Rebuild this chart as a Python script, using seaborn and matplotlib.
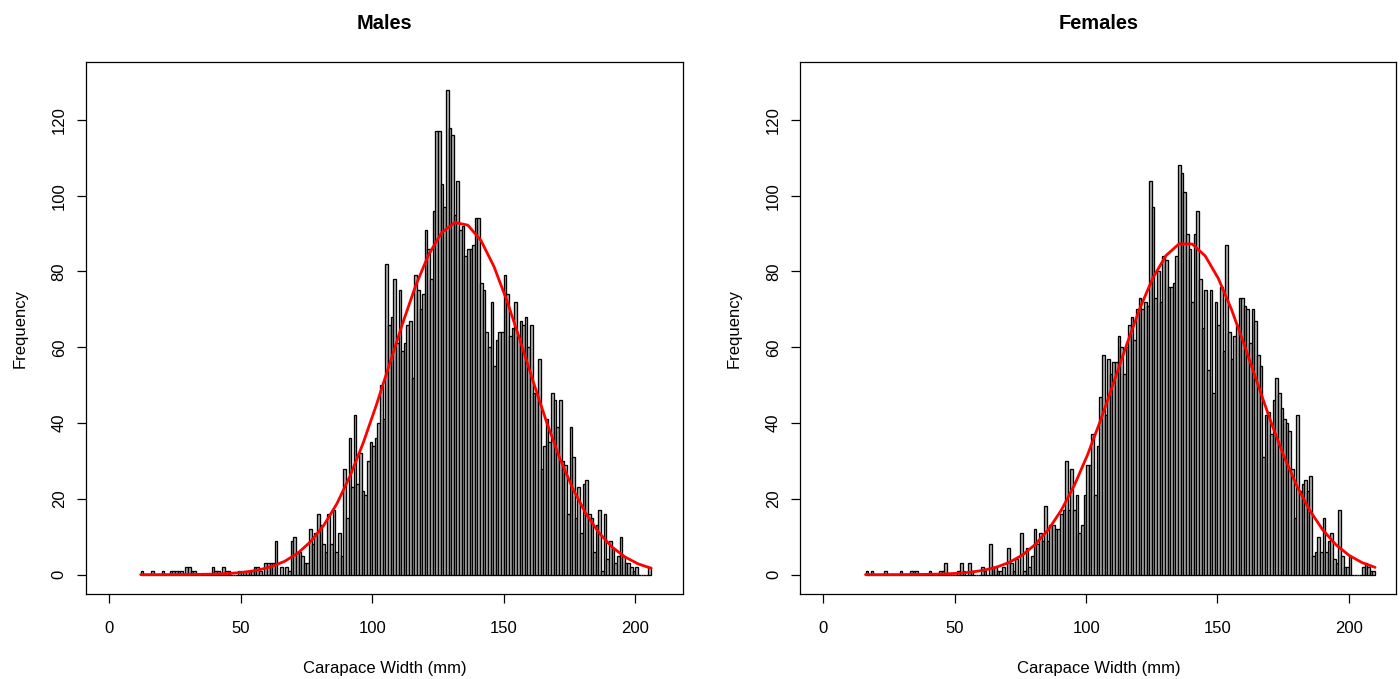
import numpy as np
import pandas as pd
import matplotlib
matplotlib.use("Agg")
import matplotlib.pyplot as plt
import seaborn as sns

# Carapace width frequencies in 1 mm classes; each list starts at its first class.
males_first_bin = 12
males_counts = [
    1, 0, 0, 0, 1, 0, 0, 0, 1, 0, 0, 1, 1, 1, 1, 1, 0, 2, 2, 1,          # 12-31
    1, 0, 0, 0, 0, 0, 0, 2, 1, 1, 0, 2, 1, 1, 0, 0, 0, 1, 0, 1,          # 32-51
    1, 1, 1, 2, 2, 1, 0, 3, 3, 3, 3, 9, 0, 2, 0, 2, 1, 9, 10, 6,         # 52-71
    6, 5, 3, 3, 12, 8, 11, 16, 13, 8, 6, 16, 8,                          # 72-84
    17, 6, 11, 5, 28, 15, 36, 23, 42, 24, 32, 22, 21, 30, 35, 34, 36, 40, 50, 41,      # 85-104
    82, 66, 68, 78, 61, 75, 59, 61, 66, 67, 52, 79, 75, 70, 74, 91, 86, 78, 96, 117,   # 105-124
    117, 103, 97, 128, 118, 116, 95, 104, 91, 92, 84, 86, 86, 87, 94, 94, 77, 75, 64, 60,  # 125-144
    72, 55, 62, 64, 64, 79, 74, 63, 65, 72, 63, 67, 66, 68, 60, 66, 48, 48, 57,       # 145-163
    28, 34, 41, 35, 48, 46, 39, 46, 30, 29, 16, 39, 31, 15, 23, 11, 24, 25, 16, 15,   # 164-183
    6, 13, 17, 1, 16, 4, 9, 7, 3, 5, 10, 5, 3, 3, 2, 1, 2, 0, 0, 0, 0, 2,             # 184-205
]

females_first_bin = 16
females_counts = [
    1, 0, 1, 0, 0, 0, 0, 1, 0, 0, 0, 0, 0, 1, 0, 0, 0, 1, 1, 1,          # 16-35
    0, 0, 0, 0, 1, 0, 0, 0, 1, 1, 3, 0, 0, 0, 0, 1, 3, 1, 0, 3,          # 36-55
    1, 0, 0, 0, 2, 1, 0, 8, 2, 2, 1, 1, 2, 0, 7, 3, 1, 4, 0, 11,         # 56-75
    1, 7, 2, 5, 12, 8, 11, 9, 18,                                        # 76-84
    9, 13, 13, 12, 12, 16, 17, 30, 17, 28, 17, 21, 11, 13, 21, 29, 29, 37, 21, 34,    # 85-104
    47, 58, 42, 57, 53, 56, 56, 63, 60, 53, 60, 66, 68, 62, 70, 73, 70, 72, 71, 104,  # 105-124
    97, 73, 80, 72, 84, 83, 76, 76, 77, 84, 108, 106, 101, 90, 86, 72, 90, 96, 78, 65,  # 125-144
    75, 54, 75, 48, 72, 66, 76, 59, 87, 64, 57, 63, 66, 73, 73, 71, 70, 61, 70, 67,   # 145-164
    58, 55, 31, 42, 43, 37, 46, 52, 48, 44, 41, 40, 38, 28, 15, 42, 22, 24, 25, 22,   # 165-184
    26, 5, 6, 10, 6, 15, 6, 9, 11, 4, 3, 17, 5, 2, 2, 5, 0, 0, 0, 0,                 # 185-204
    2, 3, 2, 1, 1,                                                       # 205-209
]

panel_titles = ["Males", "Females"]
x_label = "Carapace Width (mm)"
y_label = "Frequency"
x_ticks = [0, 50, 100, 150, 200]
y_ticks = [0, 20, 40, 60, 80, 100, 120]

sns.set_theme(style="white")
plt.rcParams["font.family"] = ["Liberation Sans", "DejaVu Sans"]
plt.rcParams["text.color"] = "black"
plt.rcParams["axes.labelcolor"] = "black"

fig = plt.figure(figsize=(14, 6.79), dpi=100)
axes = [
    fig.add_axes([0.0614, 0.1247, 0.4264, 0.7835]),
    fig.add_axes([0.5717, 0.1247, 0.4257, 0.7835]),
]


def normal_fit(first, counts, npts=40):
    """Normal density scaled to the histogram (1 mm classes)."""
    counts = np.asarray(counts, dtype=float)
    left = first + np.arange(len(counts))
    mids = left + 0.5
    n = counts.sum()
    mean = (mids * counts).sum() / n
    sd = np.sqrt((counts * (mids - mean) ** 2).sum() / (n - 1))
    xs = np.linspace(left[0], left[-1] + 1, npts)
    ys = n * np.exp(-0.5 * ((xs - mean) / sd) ** 2) / (sd * np.sqrt(2 * np.pi))
    return xs, ys


for ax, title, first, counts in zip(
    axes, panel_titles,
    [males_first_bin, females_first_bin],
    [males_counts, females_counts],
):
    counts = np.asarray(counts)
    left = first + np.arange(len(counts))
    df = pd.DataFrame({"width": left + 0.5, "n": counts})

    sns.histplot(
        data=df, x="width", weights="n", binwidth=1,
        binrange=(float(left[0]), float(left[-1] + 1)), stat="count",
        color="#b4b4b4", edgecolor="black", linewidth=0.95, alpha=1.0, ax=ax,
    )
    xs, ys = normal_fit(first, counts)
    sns.lineplot(x=xs, y=ys, color="red", linewidth=2.0, sort=False, ax=ax)

    ax.set_xlim(-8.8, 218.1)
    ax.set_ylim(-5.2, 135.2)
    ax.set_xticks(x_ticks, labels=[str(t) for t in x_ticks])
    ax.set_yticks(y_ticks, labels=[str(t) for t in y_ticks])
    ax.tick_params(axis="both", direction="out", length=6.5, width=0.9,
                   color="black", labelcolor="black", labelsize=12,
                   bottom=True, left=True, top=False, right=False)
    ax.tick_params(axis="x", pad=12.5)
    ax.tick_params(axis="y", pad=7.4)
    for lab in ax.get_yticklabels():
        lab.set_rotation(90)
        lab.set_verticalalignment("center")

    for spine in ax.spines.values():
        spine.set_visible(True)
        spine.set_color("black")
        spine.set_linewidth(0.9)

    ax.set_title(title, fontsize=14.4, fontweight="bold", color="black",
                 y=1.062, pad=0)
    ax.set_xlabel(x_label, fontsize=12, color="black")
    ax.set_ylabel(y_label, fontsize=12, color="black")
    ax.xaxis.set_label_coords(0.5, -0.1244)
    ax.yaxis.set_label_coords(-0.0985, 0.5)
    ax.grid(False)

fig.savefig("out.png", dpi=100, facecolor="white")
